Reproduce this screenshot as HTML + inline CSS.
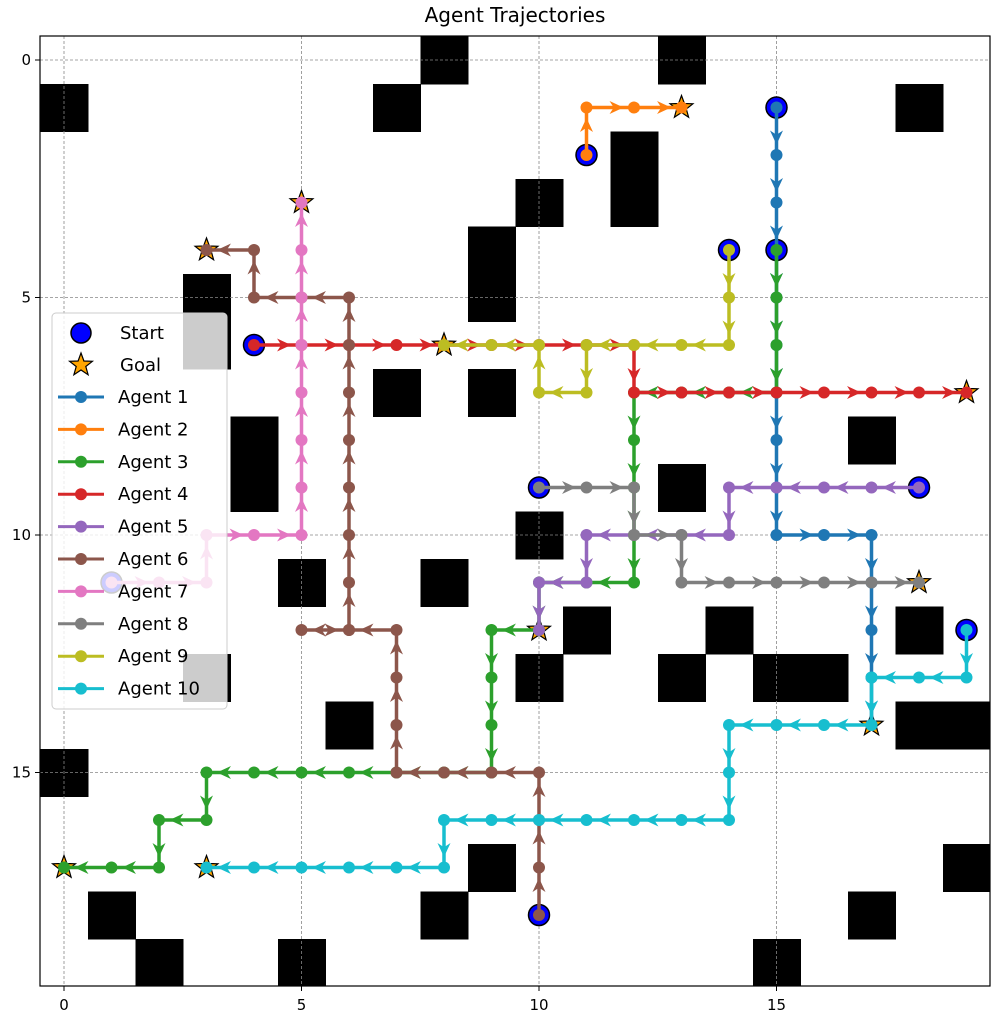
<!DOCTYPE html>
<html><head><meta charset="utf-8"><style>
html,body{margin:0;padding:0;background:#fff;}
svg{display:block;font-family:"DejaVu Sans","Liberation Sans",sans-serif;}
</style></head><body>
<svg id="s" width="996" height="1023" viewBox="0 0 996 1023" xmlns="http://www.w3.org/2000/svg">
<rect width="996" height="1023" fill="#fff"/>
<text x="515" y="22" font-size="20" text-anchor="middle" fill="#000">Agent Trajectories</text>
<g id="obs" shape-rendering="crispEdges"></g>
<g id="grid" stroke="#888" stroke-width="0.8" stroke-dasharray="3,2"></g>
<g id="marks"></g>
<g id="paths"></g>
<rect x="40" y="36" width="950" height="950" fill="none" stroke="#000" stroke-width="1.2"/>
<g id="ticks" font-size="15" fill="#000"></g>
<g id="legend"></g>
</svg>
<script>
var NS="http://www.w3.org/2000/svg";
function X(x){return 64+47.5*x;} function Y(y){return 60+47.5*y;}
function el(p,t,a){var e=document.createElementNS(NS,t);for(var k in a)e.setAttribute(k,a[k]);document.getElementById(p).appendChild(e);return e;}
var obs=[[8,0],[13,0],[0,1],[7,1],[18,1],[12,2],[12,3],[10,3],[9,4],[9,5],[3,5],[3,6],[7,7],[9,7],[4,8],[4,9],[17,8],[13,9],[10,10],[5,11],[8,11],[11,12],[14,12],[18,12],[3,13],[10,13],[13,13],[15,13],[16,13],[6,14],[18,14],[19,14],[0,15],[9,17],[19,17],[1,18],[8,18],[17,18],[2,19],[5,19],[15,19]];
obs.forEach(function(o){var x=Math.max(40,X(o[0]-0.5)),y=Math.max(36,Y(o[1]-0.5));el("obs","rect",{x:x,y:y,width:Math.min(990,X(o[0]+0.5)+0.5)-x,height:Math.min(986,Y(o[1]+0.5)+0.5)-y,fill:"#000"});});
[0,5,10,15].forEach(function(v){
 el("grid","line",{x1:X(v),y1:36,x2:X(v),y2:986});
 el("grid","line",{x1:40,y1:Y(v),x2:990,y2:Y(v)});
 el("ticks","line",{x1:X(v),y1:986,x2:X(v),y2:991,stroke:"#000"});
 el("ticks","line",{x1:35,y1:Y(v),x2:40,y2:Y(v),stroke:"#000"});
 var t=el("ticks","text",{x:X(v),y:1010,"text-anchor":"middle"});t.textContent=v;
 var t2=el("ticks","text",{x:31,y:Y(v)+5,"text-anchor":"end"});t2.textContent=v;
});
function seg(a){var r=[a[0]];for(var i=1;i<a.length;i++){var p=r[r.length-1],q=a[i];var dx=Math.sign(q[0]-p[0]),dy=Math.sign(q[1]-p[1]);var x=p[0],y=p[1];while(x!=q[0]||y!=q[1]){x+=dx;y+=dy;r.push([x,y]);}}return r;}
var agents=[
["#1f77b4",[[15,1],[15,10],[17,10],[17,14]]],
["#ff7f0e",[[11,2],[11,1],[13,1]]],
["#2ca02c",[[15,4],[15,7],[12,7],[12,11],[10,11],[10,12],[9,12],[9,15],[3,15],[3,16],[2,16],[2,17],[0,17]]],
["#d62728",[[4,6],[12,6],[12,7],[19,7]]],
["#9467bd",[[18,9],[14,9],[14,10],[11,10],[11,11],[10,11],[10,12]]],
["#8c564b",[[10,18],[10,15],[7,15],[7,12],[5,12],[6,12],[6,5],[4,5],[4,4],[3,4]]],
["#e377c2",[[1,11],[3,11],[3,10],[5,10],[5,3]]],
["#7f7f7f",[[10,9],[12,9],[12,10],[13,10],[13,11],[18,11]]],
["#bcbd22",[[14,4],[14,6],[11,6],[11,7],[10,7],[10,6],[8,6]]],
["#17becf",[[19,12],[19,13],[17,13],[17,14],[14,14],[14,16],[8,16],[8,17],[3,17]]]
];
function star(cx,cy,R,r){var s="";for(var i=0;i<10;i++){var a=-Math.PI/2+i*Math.PI/5,rr=i%2?r:R;s+=(cx+rr*Math.cos(a)).toFixed(1)+","+(cy+rr*Math.sin(a)).toFixed(1)+" ";}return s;}
agents.forEach(function(ag){var p=seg(ag[1]);var s=p[0],g=p[p.length-1];
 el("marks","circle",{cx:X(s[0]),cy:Y(s[1]),r:10.5,fill:"#0000ff",stroke:"#000","stroke-width":1.5});
 el("marks","polygon",{points:star(X(g[0]),Y(g[1]),12,5),fill:"#ffa500",stroke:"#000","stroke-width":1.2});
});
agents.forEach(function(ag){var c=ag[0],p=seg(ag[1]);
 el("paths","polyline",{points:p.map(function(q){return X(q[0])+","+Y(q[1]);}).join(" "),fill:"none",stroke:c,"stroke-width":3.5});
 p.forEach(function(q){el("paths","circle",{cx:X(q[0]),cy:Y(q[1]),r:6,fill:c});});
 for(var i=1;i<p.length;i++){var a=p[i-1],b=p[i];var dx=b[0]-a[0],dy=b[1]-a[1];
  var tx=X(a[0])+dx*47.5*0.78,ty=Y(a[1])+dy*47.5*0.78;var L=14,W=6.5;
  var bx=tx-dx*L,by=ty-dy*L;var nx=-dy,ny=dx;
  el("paths","polygon",{points:tx+","+ty+" "+(bx+nx*W)+","+(by+ny*W)+" "+(tx-dx*L*0.7)+","+(ty-dy*L*0.7)+" "+(bx-nx*W)+","+(by-ny*W),fill:c});}
});
el("legend","rect",{x:52,y:313,width:175,height:396,rx:4,fill:"#fff","fill-opacity":0.8,stroke:"#ccc"});
el("legend","circle",{cx:81,cy:333,r:10,fill:"#0000ff",stroke:"#000","stroke-width":1.5});
el("legend","polygon",{points:star(81,365,12,5),fill:"#ffa500",stroke:"#000","stroke-width":1.2});
var t=el("legend","text",{x:120,y:339,"font-size":18});t.textContent="Start";
t=el("legend","text",{x:120,y:371,"font-size":18});t.textContent="Goal";
agents.forEach(function(ag,i){var y=397+i*32.4;
 el("legend","line",{x1:58,y1:y,x2:104,y2:y,stroke:ag[0],"stroke-width":3});
 el("legend","circle",{cx:81,cy:y,r:6,fill:ag[0]});
 var tt=el("legend","text",{x:118,y:y+6,"font-size":18});tt.textContent="Agent "+(i+1);
});
</script>
</body></html>
